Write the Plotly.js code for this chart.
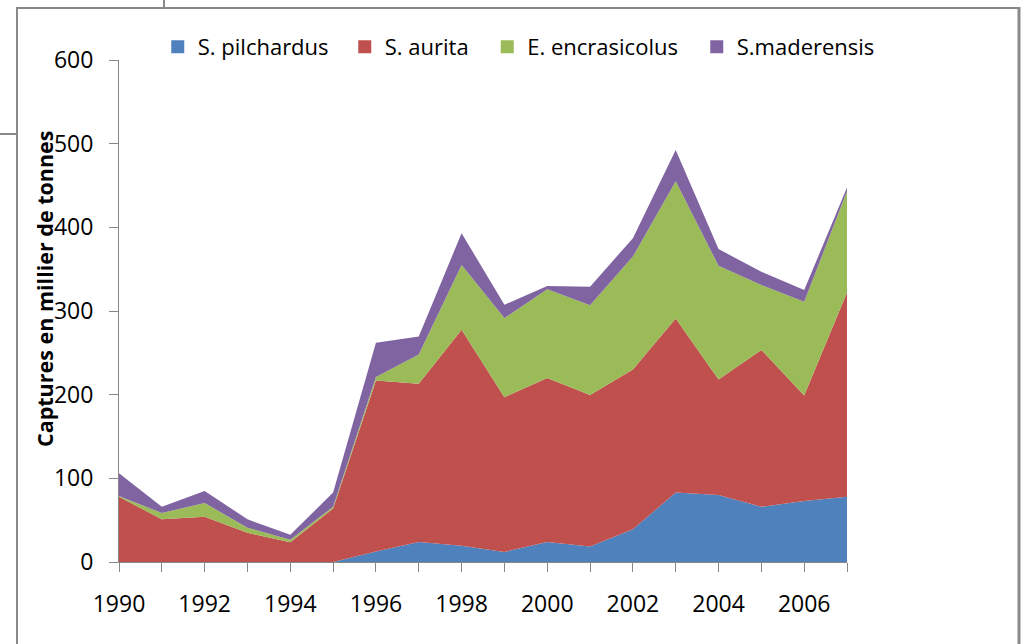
<!DOCTYPE html>
<html>
<head>
<meta charset="utf-8">
<script src="https://cdn.plot.ly/plotly-3.0.1.min.js"></script>
<style>html,body{margin:0;padding:0;background:#fff;}#chart{width:1023px;height:644px;}</style>
</head>
<body>
<div id="chart"></div>
<script>
// ---- data ----
const years = [1990,1991,1992,1993,1994,1995,1996,1997,1998,1999,2000,2001,2002,2003,2004,2005,2006,2007];
const pilchardus  = [0,0,0,0,0,0,12.5,24,19.5,12,24,18.5,39,83,80,66,73,78];
const aurita      = [78,51,54,35,23.5,64,204.5,189,258,185,196,181,191,208,138,187.5,126,244];
const encrasicolus= [1,7.5,16.5,6,3,2,4,35,77.5,94.5,106,107.5,135,164,136,77.5,112,121];
const maderensis  = [27,7.5,14.5,10,6,17,41,21.5,38,16,4,22,22,37.5,20,16,14,4.5];
const seriesNames = ['S. pilchardus','S. aurita','E. encrasicolus','S.maderensis'];
const seriesColors = ['#4F81BD','#C0504D','#9BBB59','#8064A2'];
const xTickLabels = ['1990','','1992','','1994','','1996','','1998','','2000','','2002','','2004','','2006',''];
const yTickVals = [0,100,200,300,400,500,600];
const yTitle = 'Captures en millier de tonnes';

const seriesValues = [pilchardus, aurita, encrasicolus, maderensis];
const legendIds = ['legend','legend2','legend3','legend4'];
const traces = [];
seriesValues.forEach((vals, i) => {
  traces.push({
    x: years, y: vals, type: 'scatter', mode: 'lines', stackgroup: 'one',
    name: seriesNames[i], showlegend: false,
    line: {width: 0, color: seriesColors[i]}, fillcolor: seriesColors[i],
    hoverinfo: 'x+y+name'
  });
});
// legend entries (square swatches), one legend box each so spacing follows the reference
seriesNames.forEach((n, i) => {
  traces.push({
    x: [null], y: [null], type: 'scatter', mode: 'markers', name: n, legend: legendIds[i],
    marker: {symbol: 'square', size: 13, color: seriesColors[i]}, showlegend: true
  });
});

const L = 119, R = 847, T = 60, B = 562, W = 1023, H = 644;
const pw = R - L, ph = B - T;
const px = v => (v - L) / pw;
const py = v => (B - v) / ph;
const gray = '#878787';
const legendX = [157.75, 344.75, 487.25, 696.75];

const layout = {
  width: W, height: H,
  margin: {l: L, r: W - R, t: T, b: H - B, pad: 0},
  paper_bgcolor: '#fff', plot_bgcolor: '#fff',
  font: {family: '"Open Sans", "Noto Sans", sans-serif', size: 22, color: '#000'},
  showlegend: true,
  xaxis: {
    range: [1990, 2007], tickmode: 'array', tickvals: years, ticktext: xTickLabels,
    ticks: 'outside', ticklen: 9, tickwidth: 1, tickcolor: gray,
    showline: true, linecolor: gray, linewidth: 1, showgrid: false, zeroline: false,
    ticklabelstandoff: 12, tickfont: {size: 23, color: '#000'}
  },
  yaxis: {
    range: [0, 600], tickmode: 'array', tickvals: yTickVals,
    ticks: 'outside', ticklen: 9, tickwidth: 1, tickcolor: gray,
    showline: true, linecolor: gray, linewidth: 1, showgrid: false, zeroline: false,
    ticklabelstandoff: 11, tickfont: {size: 23, color: '#000'}
  },
  annotations: [{
    text: '<b>' + yTitle + '</b>', textangle: -90, showarrow: false,
    xref: 'paper', yref: 'paper', x: px(44), y: py(289), xanchor: 'center', yanchor: 'middle',
    font: {family: '"Open Sans", sans-serif', size: 21.5, color: '#000'}
  }],
  shapes: [
    {type: 'line', xref: 'paper', yref: 'paper', x0: px(17), x1: px(17), y0: py(8), y1: py(660), line: {color: '#888', width: 2}},
    {type: 'line', xref: 'paper', yref: 'paper', x0: px(16), x1: px(1020), y0: py(8), y1: py(8), line: {color: '#888', width: 2}},
    {type: 'line', xref: 'paper', yref: 'paper', x0: px(1019), x1: px(1019), y0: py(7), y1: py(660), line: {color: '#8a8a8a', width: 3}},
    {type: 'line', xref: 'paper', yref: 'paper', x0: px(164), x1: px(164), y0: py(-2), y1: py(8), line: {color: '#888', width: 2}},
    {type: 'line', xref: 'paper', yref: 'paper', x0: px(-2), x1: px(17), y0: py(134), y1: py(134), line: {color: '#888', width: 2}}
  ]
};
legendIds.forEach((id, i) => {
  layout[id] = {
    orientation: 'h', x: px(legendX[i]), xanchor: 'left', y: py(47), yanchor: 'middle',
    font: {size: 22, color: '#000'}, bgcolor: 'rgba(0,0,0,0)', borderwidth: 0,
    itemclick: false
  };
});

Plotly.newPlot('chart', traces, layout, {displayModeBar: false, staticPlot: true});
</script>
</body>
</html>
